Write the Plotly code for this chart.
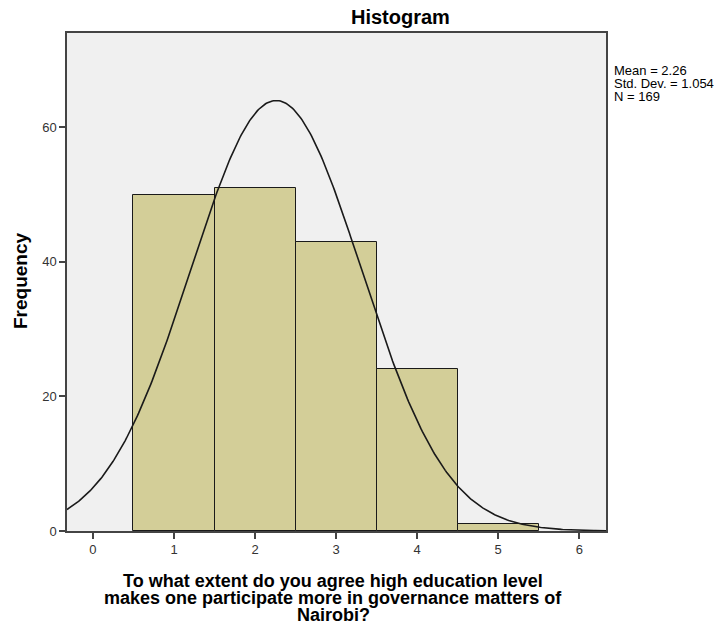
import numpy as np
import plotly.graph_objects as go

# Data
categories = [1, 2, 3, 4, 5]
frequencies = [50, 51, 43, 24, 1]
x_ticks = [0, 1, 2, 3, 4, 5, 6]
y_ticks = [0, 20, 40, 60]
stat_mean = 2.26
stat_sd = 1.054
stat_n = 169
bin_width = 1.0

# Fitted normal curve from reported statistics
xc = np.linspace(-0.32, 6.33, 400)
yc = stat_n * bin_width / (stat_sd * np.sqrt(2 * np.pi)) * np.exp(-0.5 * ((xc - stat_mean) / stat_sd) ** 2)

# page offset (browser body margin)
OFF = 8
PL, PR, PT, PB = 67, 606, 33, 531  # plot area in page pixels


def px(x):
    return (x - PL) / (PR - PL)


def py(y):
    return (PB - y) / (PB - PT)


fig = go.Figure()
fig.add_trace(go.Bar(
    x=categories, y=frequencies, width=bin_width,
    marker=dict(color="#d3ce98", line=dict(color="#1a1a1a", width=1)),
    showlegend=False, hoverinfo="x+y",
))
fig.add_trace(go.Scatter(
    x=xc, y=yc, mode="lines",
    line=dict(color="#1a1a1a", width=1.6),
    showlegend=False, hoverinfo="skip",
))

font_family = "Liberation Sans, Arial, sans-serif"
W, H = 726 - OFF, 627 - OFF
fig.update_layout(
    width=W, height=H,
    margin=dict(l=PL - OFF, r=W - (PR - OFF), t=PT - OFF, b=H - (PB - OFF)),
    paper_bgcolor="white",
    plot_bgcolor="#f0f0f0",
    font=dict(family=font_family, size=13, color="#333333"),
    bargap=0,
    xaxis=dict(
        range=[-0.32, 6.33], tickvals=x_ticks, ticktext=[str(v) for v in x_ticks],
        ticks="outside", ticklen=6, tickcolor="#444444", tickwidth=1.5,
        showline=True, linecolor="#444444", linewidth=1.5, mirror=True,
        showgrid=False, zeroline=False,
        tickfont=dict(size=13, color="#333333"),
    ),
    yaxis=dict(
        range=[0, 74], tickvals=y_ticks, ticktext=[str(v) for v in y_ticks],
        ticks="outside", ticklen=6, tickcolor="#444444", tickwidth=1.5,
        showline=True, linecolor="#444444", linewidth=1.5, mirror=True,
        showgrid=False, zeroline=False,
        tickfont=dict(size=13, color="#333333"),
    ),
)

# Title
fig.add_annotation(
    text="<b>Histogram</b>", xref="paper", yref="paper",
    x=px(400), y=py(17), showarrow=False, xanchor="center", yanchor="middle",
    font=dict(size=20, color="#000000", family=font_family),
)
# Y axis title
fig.add_annotation(
    text="<b>Frequency</b>", xref="paper", yref="paper",
    x=px(20), y=py(281), textangle=-90, showarrow=False,
    xanchor="center", yanchor="middle",
    font=dict(size=19, color="#000000", family=font_family),
)
# X axis title, three tight lines
xtitle_lines = [
    "To what extent do you agree high education level",
    "makes one participate more in governance matters of",
    "Nairobi?",
]
for i, line in enumerate(xtitle_lines):
    fig.add_annotation(
        text="<b>" + line + "</b>", xref="paper", yref="paper",
        x=px(333), y=py(581 + 17 * i), showarrow=False,
        xanchor="center", yanchor="middle",
        font=dict(size=18, color="#000000", family=font_family),
    )
# Stats box
stat_lines = ["Mean = 2.26", "Std. Dev. = 1.054", "N = 169"]
for i, line in enumerate(stat_lines):
    fig.add_annotation(
        text=line, xref="paper", yref="paper",
        x=px(612), y=py(70 + 13 * i), showarrow=False,
        xanchor="left", yanchor="middle", align="left",
        font=dict(size=13, color="#000000", family=font_family),
    )

fig.write_html("out.html")
